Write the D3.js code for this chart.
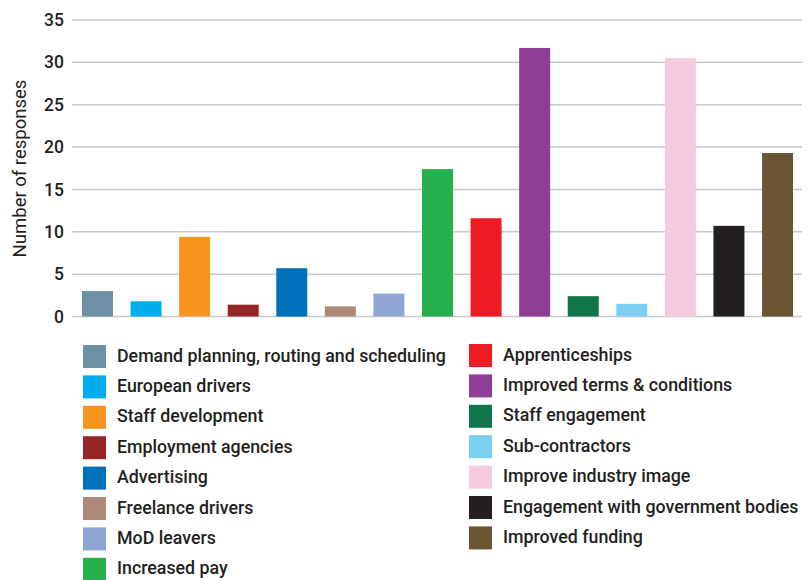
<!DOCTYPE html>
<html><head><meta charset="utf-8">
<script src="https://cdn.jsdelivr.net/npm/d3@7"></script>
<style>body{margin:0;background:#fff}svg{display:block}</style>
</head><body>
<svg id="c" width="810" height="580"></svg>
<script>
const categories = ["Demand planning, routing and scheduling","European drivers","Staff development","Employment agencies","Advertising","Freelance drivers","MoD leavers","Increased pay","Apprenticeships","Improved terms & conditions","Staff engagement","Sub-contractors","Improve industry image","Engagement with government bodies","Improved funding"];
const values = [3.0,1.8,9.4,1.4,5.7,1.2,2.7,17.4,11.6,31.7,2.4,1.5,30.5,10.7,19.3];
const colors = ["#6C91A4","#00AEEF","#F7941D","#972726","#0072BC","#AE8A78","#8FA6D5","#24B14C","#ED1C24","#8E3E96","#10754B","#7CCFF3","#F7CBDF","#231F20","#6C5533"];
const yTicks = [0,5,10,15,20,25,30,35];
const yTitle = "Number of responses";

const svg = d3.select("#c");
const font = "Roboto, 'Noto Sans', sans-serif";
const textColor = "#231F20";

const x = d3.scaleBand().domain(categories).range([73, 802]).paddingInner(0.362).paddingOuter(0.185);
const y = d3.scaleLinear().domain([0, 35]).range([316.5, 20]);

// gridlines
svg.append("g").selectAll("line").data(yTicks).join("line")
  .attr("x1", 72).attr("x2", 802)
  .attr("y1", d => y(d)).attr("y2", d => y(d))
  .attr("stroke", "#c9c9cb").attr("stroke-width", 1.5);

// y axis labels
const yAxis = d3.axisLeft(y).tickValues(yTicks).tickSize(0).tickPadding(0);
const ga = svg.append("g").attr("transform", "translate(64,0)").call(yAxis);
ga.select(".domain").remove();
ga.selectAll("text").attr("font-family", font).attr("font-size", 17.5).attr("font-weight", 500).attr("fill", textColor);

svg.append("text").attr("transform", `translate(26,168.5) rotate(-90)`)
  .attr("text-anchor", "middle").attr("font-family", font).attr("font-size", 18.5)
  .attr("fill", textColor).text(yTitle);

// bars
svg.append("g").selectAll("rect").data(categories).join("rect")
  .attr("x", d => x(d)).attr("width", x.bandwidth())
  .attr("y", (d,i) => y(values[i])).attr("height", (d,i) => y(0) - y(values[i]))
  .attr("fill", (d,i) => colors[i]);

// legend
const leg = svg.append("g");
const rowH = 30.4;
categories.forEach((c, i) => {
  const col = i < 8 ? 0 : 1;
  const row = i < 8 ? i : i - 8;
  const gx = col === 0 ? 83 : 469;
  const gy = (col === 0 ? 345 : 344) + row * rowH;
  const g = leg.append("g").attr("transform", `translate(${gx},${gy})`);
  g.append("rect").attr("width", 23).attr("height", 23).attr("fill", colors[i]);
  g.append("text").attr("x", 34).attr("y", 16.5)
    .attr("font-family", font).attr("font-size", 17.8).attr("font-weight", 500)
    .attr("fill", textColor).text(c);
});
</script>
</body></html>
